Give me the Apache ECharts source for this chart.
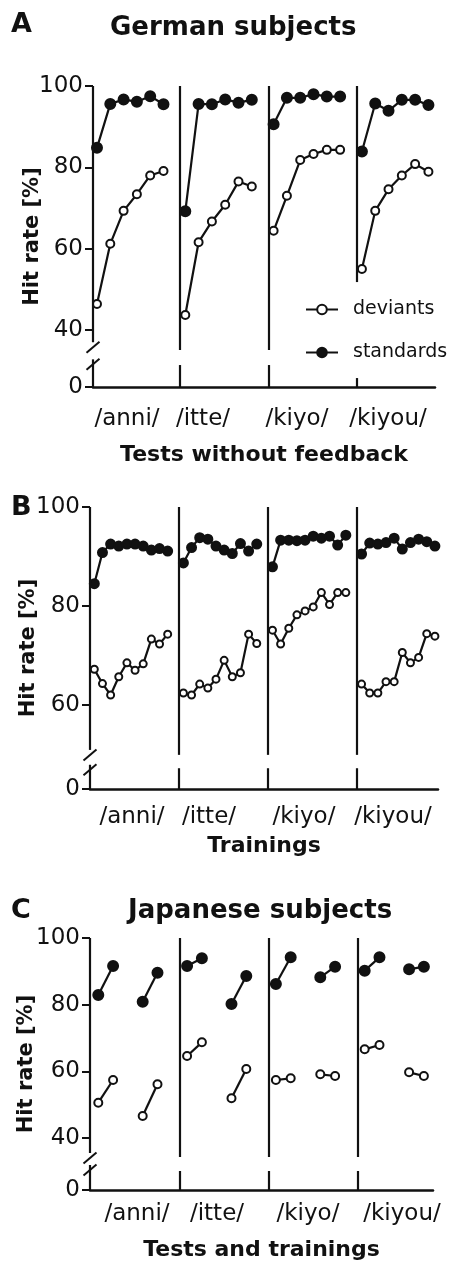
<!DOCTYPE html>
<html>
<head>
<meta charset="utf-8">
<title>Hit rate</title>
<script src="https://cdn.jsdelivr.net/npm/echarts@6/dist/echarts.min.js"></script>
<style>
  html, body { margin: 0; padding: 0; background: #fff; }
  #chart { width: 450px; height: 1264px; }
</style>
</head>
<body>
<div id="chart"></div>
<script>
// word blocks, same order in every panel
const words = ['/anni/', '/itte/', '/kiyo/', '/kiyou/'];

// A - German subjects, tests without feedback (6 tests per word)
const testDeviants = [
  [46.4, 61.2, 69.3, 73.4, 78.0, 79.1],
  [43.7, 61.6, 66.7, 70.8, 76.5, 75.3],
  [64.4, 73.0, 81.8, 83.3, 84.3, 84.3],
  [55.0, 69.3, 74.6, 78.0, 80.8, 78.9]
];
const testStandards = [
  [84.8, 95.6, 96.7, 96.1, 97.5, 95.5],
  [69.2, 95.6, 95.5, 96.7, 95.9, 96.6],
  [90.6, 97.1, 97.1, 98.0, 97.4, 97.4],
  [83.9, 95.7, 93.9, 96.6, 96.6, 95.3]
];

// B - German subjects, trainings (10 per word)
const trainDeviants = [
  [67.2, 64.3, 62.0, 65.7, 68.5, 67.0, 68.3, 73.3, 72.3, 74.3],
  [62.4, 62.0, 64.2, 63.4, 65.2, 69.0, 65.7, 66.5, 74.3, 72.4],
  [75.1, 72.3, 75.5, 78.2, 79.0, 79.8, 82.7, 80.3, 82.7, 82.7],
  [64.2, 62.4, 62.4, 64.7, 64.7, 70.6, 68.5, 69.6, 74.4, 73.9]
];
const trainStandards = [
  [84.5, 90.8, 92.5, 92.1, 92.5, 92.5, 92.1, 91.3, 91.6, 91.1],
  [88.7, 91.8, 93.8, 93.5, 92.1, 91.3, 90.6, 92.6, 91.1, 92.5],
  [87.9, 93.3, 93.3, 93.2, 93.3, 94.1, 93.7, 94.1, 92.3, 94.3],
  [90.5, 92.7, 92.5, 92.8, 93.7, 91.5, 92.8, 93.5, 93.0, 92.1]
];

// C - Japanese subjects, tests and trainings (two before/after pairs per word)
const jpDeviants = [
  [[50.6, 57.4], [46.6, 56.1]],
  [[64.6, 68.7], [51.9, 60.7]],
  [[57.4, 57.9], [59.1, 58.6]],
  [[66.6, 67.9], [59.7, 58.6]]
];
const jpStandards = [
  [[82.9, 91.6], [80.9, 89.6]],
  [[91.6, 93.9], [80.2, 88.6]],
  [[86.2, 94.2], [88.2, 91.4]],
  [[90.2, 94.2], [90.6, 91.4]]
];

const ink = '#111';
const font = 'DejaVu Sans';

// layout of each panel (pixels and axis units)
const panels = [
  {
    title: 'German subjects', letter: 'A', xName: 'Tests without feedback',
    left: 93, right: 15, top: 86, height: 301, zero: 26, ticks: [40, 60, 80, 100],
    unit: 13.3, start: 0.3, pitch: 6.64, sepShift: 0.4, segOffsets: [0],
    axisBreak: [37.0, 32.8], sepBreaks: [[35.1, 31.4], [35.1, 31.4], [51.8, 28.2]],
    labelPx: [127, 203, 297, 388], labelMargin: 21, xNameGap: 57, yNameGap: 50,
    letterTop: 11, titleTop: 15,
    dev: testDeviants.map(g => [g]), std: testStandards.map(g => [g]),
    openSize: 8, filledSize: 10
  },
  {
    title: '', letter: 'B', xName: 'Trainings',
    left: 90, right: 12, top: 507, height: 282, zero: 43, ticks: [60, 80, 100],
    unit: 8.15, start: 0.53, pitch: 10.93, sepShift: 0.6, segOffsets: [0],
    axisBreak: [50.9, 47.9], sepBreaks: [[49.9, 47.2], [49.9, 47.2], [49.9, 47.2]],
    labelPx: [132, 209, 304, 393], labelMargin: 17, xNameGap: 46, yNameGap: 51,
    letterTop: 494,
    dev: trainDeviants.map(g => [g]), std: trainStandards.map(g => [g]),
    openSize: 7, filledSize: 9
  },
  {
    title: 'Japanese subjects', letter: 'C', xName: 'Tests and trainings',
    left: 90, right: 17, top: 938, height: 252, zero: 24.4, ticks: [40, 60, 80, 100],
    unit: 14.8, start: 0.56, pitch: 6.0, sepShift: 0.5, segOffsets: [0, 3],
    axisBreak: [35.5, 31.9], sepBreaks: [[34.3, 30.1], [34.3, 30.1], [34.3, 30.1]],
    labelPx: [137, 217, 308, 402], labelMargin: 13, xNameGap: 49, yNameGap: 53,
    letterTop: 897, titleTop: 898,
    dev: jpDeviants, std: jpStandards,
    openSize: 8, filledSize: 10
  }
];

const myChart = echarts.init(document.getElementById('chart'));

let grids = [], xAxes = [], yAxes = [], series = [], titles = [];

panels.forEach((p, i) => {
  const xMax = (450 - p.left - p.right) / p.unit;
  const labelVals = p.labelPx.map(px => (px - p.left) / p.unit);
  const tickVals = [p.zero].concat(p.ticks);

  grids.push({ left: p.left, right: p.right, top: p.top, height: p.height, outerBoundsMode: 'none' });

  xAxes.push({
    gridIndex: i, type: 'value', min: 0, max: xMax,
    axisLine: { show: true, lineStyle: { color: ink, width: 2.5 } },
    axisTick: { show: false },
    splitLine: { show: false },
    axisLabel: {
      customValues: labelVals,
      formatter: function (v) {
        let best = 0;
        labelVals.forEach((lv, j) => { if (Math.abs(lv - v) < Math.abs(labelVals[best] - v)) best = j; });
        return words[best];
      },
      color: ink, fontSize: 23, fontFamily: font, margin: p.labelMargin
    },
    name: p.xName, nameLocation: 'middle', nameGap: p.xNameGap, nameMoveOverlap: false,
    nameTextStyle: { color: ink, fontSize: 22, fontWeight: 'bold', fontFamily: font }
  });

  yAxes.push({
    gridIndex: i, type: 'value', min: p.zero, max: 100,
    axisLine: { show: false },
    axisTick: { show: true, length: 8, customValues: tickVals, lineStyle: { color: ink, width: 2 } },
    splitLine: { show: false },
    axisLabel: {
      customValues: tickVals,
      formatter: v => (Math.abs(v - p.zero) < 0.01 ? '0' : String(v)),
      color: ink, fontSize: 23, fontFamily: font, margin: 10
    },
    name: 'Hit rate [%]', nameLocation: 'middle', nameRotate: 90, nameGap: p.yNameGap, nameMoveOverlap: false,
    nameTextStyle: { color: ink, fontSize: 21, fontWeight: 'bold', fontFamily: font }
  });

  // axis line with a break, plus the separators between word blocks
  const lines = [
    [{ coord: [0, 100] }, { coord: [0, p.axisBreak[0]] }],
    [{ coord: [0, p.axisBreak[1]] }, { coord: [0, p.zero] }]
  ];
  for (let g = 1; g < 4; g++) {
    const sx = p.start + g * p.pitch - p.sepShift;
    lines.push([{ coord: [sx, 100] }, { coord: [sx, p.sepBreaks[g - 1][0]] }]);
    lines.push([{ coord: [sx, p.sepBreaks[g - 1][1]] }, { coord: [sx, p.zero] }]);
  }

  let first = true;
  [['deviants', p.dev, 'emptyCircle', p.openSize], ['standards', p.std, 'circle', p.filledSize]].forEach(([name, groups, sym, size]) => {
    groups.forEach((segs, g) => {
      segs.forEach((vals, s) => {
        const base = p.start + g * p.pitch + p.segOffsets[s];
        const item = {
          name: name, type: 'line', xAxisIndex: i, yAxisIndex: i,
          data: vals.map((v, k) => [base + k, v]),
          symbol: sym, symbolSize: size, showSymbol: true,
          lineStyle: { color: ink, width: 2.2 },
          itemStyle: { color: ink, borderColor: ink, borderWidth: 2 },
          z: name === 'standards' ? 3 : 2,
          animation: false, silent: true
        };
        if (first) {
          item.markLine = {
            silent: true, symbol: ['none', 'none'], animation: false,
            label: { show: false },
            lineStyle: { color: ink, width: 2.2, type: 'solid' },
            data: lines
          };
          first = false;
        }
        series.push(item);
      });
    });
  });

  titles.push({
    text: p.letter, left: 11, top: p.letterTop, padding: 0,
    textStyle: { color: ink, fontSize: 27, fontWeight: 'bold', fontFamily: font }
  });
  if (p.title) {
    titles.push({
      text: p.title, left: (i === 0 ? 110 : 128), top: p.titleTop, padding: 0,
      textStyle: { color: ink, fontSize: 26, fontWeight: 'bold', fontFamily: font }
    });
  }
});

const option = {
  backgroundColor: '#fff',
  animation: false,
  title: titles,
  grid: grids,
  xAxis: xAxes,
  yAxis: yAxes,
  legend: {
    data: ['deviants', 'standards'],
    orient: 'vertical', left: 300, top: 295,
    itemWidth: 32, itemHeight: 12, itemGap: 24, selectedMode: false,
    textStyle: { color: ink, fontSize: 19, fontFamily: font, padding: [0, 0, 0, 10] }
  },
  series: series
};
myChart.setOption(option);

// break marks (two short slashes) across each y axis
const marks = [];
panels.forEach((p, i) => {
  p.axisBreak.forEach(v => {
    const pt = myChart.convertToPixel({ gridIndex: i }, [0, v]);
    const cy = pt[1] + 5;
    marks.push({
      type: 'line', z: 100, silent: true,
      shape: { x1: pt[0] - 6.5, y1: cy + 5.5, x2: pt[0] + 6.5, y2: cy - 5.5 },
      style: { stroke: ink, lineWidth: 2 }
    });
  });
});
myChart.setOption({ graphic: marks });
</script>
</body>
</html>
